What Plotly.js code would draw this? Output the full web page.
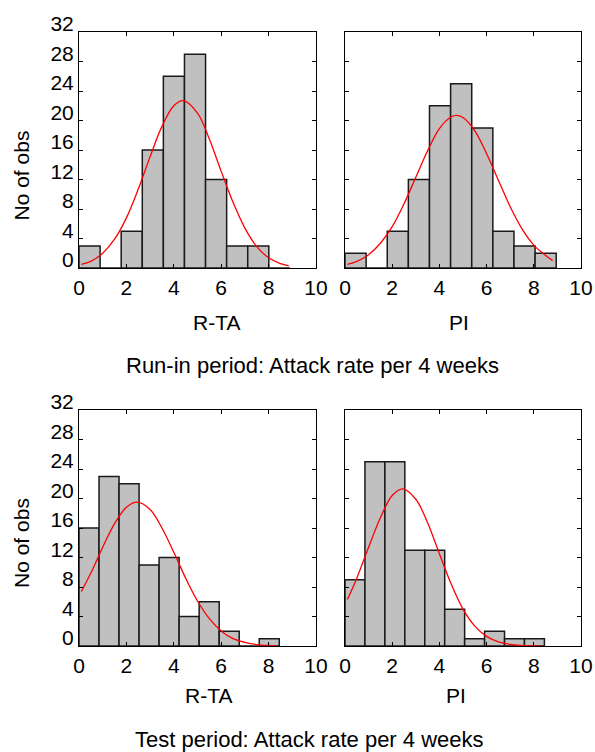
<!DOCTYPE html>
<html>
<head>
<meta charset="utf-8">
<script src="https://cdn.plot.ly/plotly-3.0.1.min.js"></script>
<style>
  html, body { margin: 0; padding: 0; background: #ffffff; }
  #chart { width: 595px; height: 752px; }
</style>
</head>
<body>
<div id="chart"></div>
<script>
// ---- Data ----
// Histogram counts (10 bins each, starting at 0) and bin widths
const runinRTA_counts = [3, 0, 5, 16, 26, 29, 12, 3, 3, 0];
const runinRTA_binWidth = 0.89;
const runinPI_counts = [2, 0, 5, 12, 22, 25, 19, 5, 3, 2];
const runinPI_binWidth = 0.895;
const testRTA_counts = [16, 23, 22, 11, 12, 4, 6, 2, 0, 1];
const testRTA_binWidth = 0.845;
const testPI_counts = [9, 25, 25, 13, 13, 5, 1, 2, 1, 1];
const testPI_binWidth = 0.845;

// Fitted normal curves
const runinRTA_curveX = [0.1, 0.5, 1.0, 1.5, 2.0, 2.5, 3.0, 3.5, 4.0, 4.4, 5.0, 5.5, 6.0, 6.5, 7.0, 7.5, 8.0, 8.5, 8.85];
const runinRTA_curveY = [0.5, 0.9, 2.0, 3.9, 6.8, 10.7, 15.1, 19.2, 22.0, 22.7, 21.0, 17.5, 13.1, 8.9, 5.4, 2.9, 1.4, 0.6, 0.3];
const runinPI_curveX = [0.1, 0.5, 1.0, 1.5, 2.0, 2.5, 3.0, 3.5, 4.0, 4.5, 4.72, 5.0, 5.5, 6.0, 6.5, 7.0, 7.5, 8.0, 8.5, 8.8];
const runinPI_curveY = [0.5, 0.9, 1.8, 3.35, 5.6, 8.7, 12.3, 15.9, 18.9, 20.5, 20.7, 20.4, 18.6, 15.5, 11.9, 8.3, 5.3, 3.1, 1.7, 1.0];
const testRTA_curveX = [0.1, 0.5, 1.0, 1.5, 2.0, 2.45, 3.0, 3.5, 4.0, 4.5, 5.0, 5.5, 6.0, 6.5, 7.0, 7.5, 8.0, 8.3];
const testRTA_curveY = [7.4, 9.9, 13.4, 16.6, 18.8, 19.5, 18.5, 16.0, 12.7, 9.2, 6.1, 3.7, 2.05, 1.0, 0.5, 0.2, 0.08, 0.04];
const testPI_curveX = [0.1, 0.5, 1.0, 1.5, 2.0, 2.45, 3.0, 3.5, 4.0, 4.5, 5.0, 5.5, 6.0, 6.5, 7.0, 7.5, 8.0, 8.3];
const testPI_curveY = [6.3, 9.2, 13.4, 17.4, 20.4, 21.3, 19.9, 16.7, 12.5, 8.4, 5.0, 2.7, 1.3, 0.56, 0.21, 0.07, 0.02, 0.01];

// Labels
const panelLabels = ["R-TA", "PI", "R-TA", "PI"];
const yTitle = "No of obs";
const periodTitles = ["Run-in period: Attack rate per 4 weeks", "Test period: Attack rate per 4 weeks"];
const xTickVals = [0, 2, 4, 6, 8, 10];
const yTickVals = [0, 4, 8, 12, 16, 20, 24, 28, 32];

// ---- Build traces ----
const FONT = "Liberation Sans, Arial, Helvetica, sans-serif";
function barTrace(counts, w, xa, ya) {
  return {
    type: "bar",
    x: counts.map((_, i) => (i + 0.5) * w),
    y: counts,
    width: counts.map(() => w),
    xaxis: xa, yaxis: ya,
    marker: { color: "#c0c0c0", line: { color: "#1a1a1a", width: 1.5 } },
    hoverinfo: "skip", showlegend: false
  };
}
function curveTrace(xs, ys, xa, ya) {
  return {
    type: "scatter", mode: "lines",
    x: xs, y: ys, xaxis: xa, yaxis: ya,
    line: { color: "#ff0000", width: 1.3, shape: "spline", smoothing: 1 },
    hoverinfo: "skip", showlegend: false
  };
}

const data = [
  barTrace(runinRTA_counts, runinRTA_binWidth, "x", "y"),
  curveTrace(runinRTA_curveX, runinRTA_curveY, "x", "y"),
  barTrace(runinPI_counts, runinPI_binWidth, "x2", "y2"),
  curveTrace(runinPI_curveX, runinPI_curveY, "x2", "y2"),
  barTrace(testRTA_counts, testRTA_binWidth, "x3", "y3"),
  curveTrace(testRTA_curveX, testRTA_curveY, "x3", "y3"),
  barTrace(testPI_counts, testPI_binWidth, "x4", "y4"),
  curveTrace(testPI_curveX, testPI_curveY, "x4", "y4")
];

const W = 595, H = 752;
const colL = [79 / W, 316 / W], colR = [345 / W, 581 / W];
const rowT = [1 - 268 / H, 1 - 32 / H], rowB = [1 - 646 / H, 1 - 410 / H];

function xAxis(dom, anchor) {
  return {
    domain: dom, anchor: anchor, range: [0, 10], tickvals: xTickVals,
    ticks: "inside", ticklen: 4, tickwidth: 1, tickcolor: "#000",
    showline: true, linecolor: "#000", linewidth: 1, mirror: "allticks",
    showgrid: false, zeroline: false, fixedrange: true,
    tickfont: { family: FONT, size: 21, color: "#000" },
    ticklabelstandoff: 1
  };
}
function yAxis(dom, anchor, showLabels) {
  return {
    domain: dom, anchor: anchor, range: [0, 32], tickvals: yTickVals,
    ticks: "inside", ticklen: 4, tickwidth: 1, tickcolor: "#000",
    showline: true, linecolor: "#000", linewidth: 1, mirror: "allticks",
    showgrid: false, zeroline: false, fixedrange: true,
    showticklabels: showLabels,
    tickfont: { family: FONT, size: 21, color: "#000" },
    ticklabelstandoff: 0, ticklabelshift: -8
  };
}

function ann(text, px, py, size, angle) {
  return {
    text: text, xref: "paper", yref: "paper",
    x: px / W, y: 1 - py / H, xanchor: "center", yanchor: "middle",
    showarrow: false, textangle: angle || 0,
    font: { family: FONT, size: size, color: "#000" }
  };
}

const layout = {
  width: W, height: H,
  margin: { l: 0, r: 0, t: 0, b: 0 },
  paper_bgcolor: "#ffffff", plot_bgcolor: "#ffffff",
  showlegend: false, bargap: 0,
  xaxis: xAxis(colL, "y"), yaxis: yAxis(rowT, "x", true),
  xaxis2: xAxis(colR, "y2"), yaxis2: yAxis(rowT, "x2", false),
  xaxis3: xAxis(colL, "y3"), yaxis3: yAxis(rowB, "x3", true),
  xaxis4: xAxis(colR, "y4"), yaxis4: yAxis(rowB, "x4", false),
  annotations: [
    ann(yTitle, 20.5, 176, 21, -90),
    ann(yTitle, 21, 543, 21, -90),
    ann(panelLabels[0], 216, 322, 21),
    ann(panelLabels[1], 459, 322, 21),
    ann(panelLabels[2], 209, 695, 21),
    ann(panelLabels[3], 456, 695, 21),
    ann(periodTitles[0], 312, 365, 22),
    ann(periodTitles[1], 309, 739, 22)
  ]
};

Plotly.newPlot("chart", data, layout, { staticPlot: true, displayModeBar: false });
</script>
</body>
</html>
